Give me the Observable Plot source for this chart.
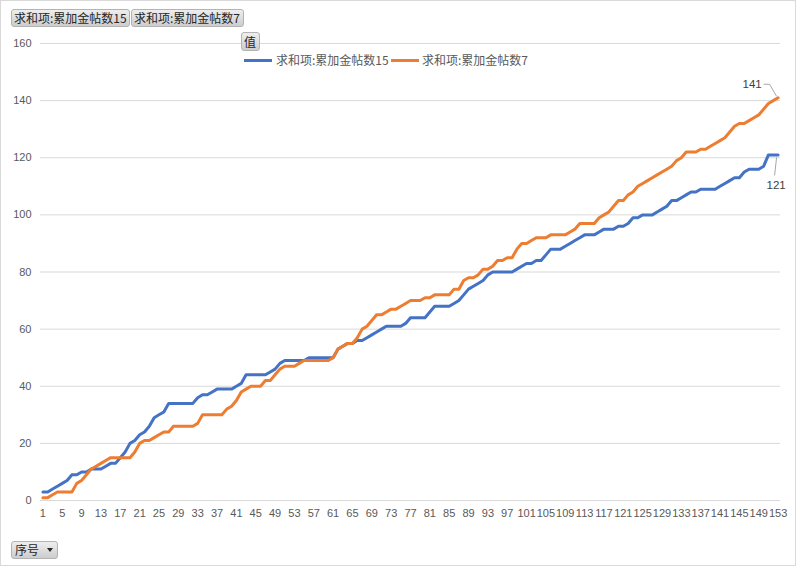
<!DOCTYPE html>
<html>
<head>
<meta charset="utf-8">
<script src="https://cdn.jsdelivr.net/npm/d3@7"></script>
<script src="https://cdn.jsdelivr.net/npm/@observablehq/plot@0.6"></script>
<style>
  html, body { margin: 0; padding: 0; background: #fff; }
  #wrap { position: relative; width: 796px; height: 566px; overflow: hidden; font-family: "Liberation Sans", "Noto Sans CJK SC", sans-serif; }
  #border { position: absolute; left: 0; top: 0; width: 794px; height: 564px; border: 1px solid #d9d9d9; pointer-events: none; }
  .btn { position: absolute; box-sizing: border-box; height: 18px; border: 1px solid #b3b3b3; border-radius: 3px;
         background: linear-gradient(#eeeeee, #cdcdcd); color: #262626; font-size: 12px; line-height: 16px;
         padding: 0 2px; white-space: nowrap; font-family: "Noto Sans CJK SC", sans-serif; }
  .leg { position: absolute; font-size: 12px; color: #595959; white-space: nowrap; line-height: 14px; font-family: "Noto Sans CJK SC", sans-serif; }
  .legline { position: absolute; height: 3px; }
  .tri { position: absolute; width: 0; height: 0; border-left: 3px solid transparent; border-right: 3px solid transparent; border-top: 4px solid #262626; }
</style>
</head>
<body>
<div id="wrap"></div>
<script>
// ---- data ----
const seriesNames = ["求和项:累加金帖数15", "求和项:累加金帖数7"];
const seriesColors = ["#4472C4", "#ED7D31"];
const xAxisName = "序号";
const valueButton = "值";
const yTicks = [0, 20, 40, 60, 80, 100, 120, 140, 160];

const idx = d3.range(1, 154);
const sum15 = [
  3,3,4,5,6,7,9,9,10,10, 11,11,11,12,13,13,15,17,20,21,
  23,24,26,29,30,31,34,34,34,34, 34,34,36,37,37,38,39,39,39,39,
  40,41,44,44,44,44,44,45,46,48, 49,49,49,49,49,50,50,50,50,50,
  50,53,54,55,55,56,56,57,58,59, 60,61,61,61,61,62,64,64,64,64,
  66,68,68,68,68,69,70,72,74,75, 76,77,79,80,80,80,80,80,81,82,
  83,83,84,84,86,88,88,88,89,90, 91,92,93,93,93,94,95,95,95,96,
  96,97,99,99,100,100,100,101,102,103, 105,105,106,107,108,108,109,109,109,109,
  110,111,112,113,113,115,116,116,116,117, 121,121,121
];
const sum7 = [
  1,1,2,3,3,3,3,6,7,9, 11,12,13,14,15,15,15,15,15,17,
  20,21,21,22,23,24,24,26,26,26, 26,26,27,30,30,30,30,30,32,33,
  35,38,39,40,40,40,42,42,44,46, 47,47,47,48,49,49,49,49,49,49,
  50,53,54,55,55,57,60,61,63,65, 65,66,67,67,68,69,70,70,70,71,
  71,72,72,72,72,74,74,77,78,78, 79,81,81,82,84,84,85,85,88,90,
  90,91,92,92,92,93,93,93,93,94, 95,97,97,97,97,99,100,101,103,105,
  105,107,108,110,111,112,113,114,115,116, 117,119,120,122,122,122,123,123,124,125,
  126,127,129,131,132,132,133,134,135,137, 139,140,141
];

const rows = [];
idx.forEach((n, i) => {
  rows.push({n, v: sum15[i], s: seriesNames[0]});
  rows.push({n, v: sum7[i], s: seriesNames[1]});
});
const lastN = idx[idx.length - 1];
const last7 = [{n: lastN, v: sum7[sum7.length - 1]}];
const last15 = [{n: lastN, v: sum15[sum15.length - 1]}];

const leaders = (index, scales) => {
  const g = d3.create("svg:g").attr("fill", "none").attr("stroke", "#a6a6a6").attr("stroke-width", 1);
  const x = scales.x(lastN);
  const y7 = scales.y(sum7[sum7.length - 1]);
  const y15 = scales.y(sum15[sum15.length - 1]);
  g.append("path").attr("d", `M${x - 14},${y7 - 13}H${x - 8}L${x - 1},${y7 - 1}`);
  g.append("path").attr("d", `M${x - 1},${y15 + 3}L${x - 3},${y15 + 21}`);
  return g.node();
};

const chart = Plot.plot({
  width: 796,
  height: 566,
  marginLeft: 40,
  marginRight: 16,
  marginTop: 43,
  marginBottom: 66,
  style: {fontFamily: '"Liberation Sans", "Noto Sans CJK SC", sans-serif', fontSize: "11px", color: "#595959", background: "transparent"},
  x: {type: "linear", domain: [0.5, lastN + 0.5], ticks: d3.range(1, lastN + 1, 4), tickFormat: d => String(d), tickSize: 0, tickPadding: 9, label: null, line: false},
  y: {domain: [0, 160], ticks: yTicks, tickSize: 0, tickPadding: 9, label: null},
  color: {domain: seriesNames, range: seriesColors},
  marks: [
    Plot.ruleY(yTicks, {stroke: "#d9d9d9", strokeWidth: 1}),
    Plot.line(rows, {x: "n", y: "v", z: "s", stroke: "s", strokeWidth: 3, strokeLinejoin: "round", strokeLinecap: "round", curve: "linear"}),
    leaders,
    Plot.text(last7, {x: "n", y: "v", text: d => String(d.v), dx: -26, dy: -13, fill: "#404040", fontSize: 11.5}),
    Plot.text(last15, {x: "n", y: "v", text: d => String(d.v), dx: -2, dy: 30, fill: "#404040", fontSize: 11.5})
  ]
});
const wrap = document.getElementById("wrap");
wrap.appendChild(chart);
chart.style.position = "absolute";
chart.style.left = "0px";
chart.style.top = "0px";

function addDiv(cls, text, css) {
  const d = document.createElement("div");
  d.className = cls;
  if (text != null) d.textContent = text;
  Object.assign(d.style, css);
  wrap.appendChild(d);
  return d;
}
// pivot field buttons
addDiv("btn", seriesNames[0], {left: "11px", top: "9px", width: "119px"});
addDiv("btn", seriesNames[1], {left: "131px", top: "9px", width: "113px"});
addDiv("btn", valueButton, {left: "241px", top: "32px", width: "19px", height: "19px", lineHeight: "17px", paddingLeft: "2px"});
addDiv("btn", xAxisName, {left: "11px", top: "541px", width: "47px", paddingLeft: "3px"});
addDiv("tri", null, {left: "47px", top: "548px"});
// legend
addDiv("legline", null, {left: "244px", top: "59px", width: "28px", background: seriesColors[0]});
addDiv("leg", seriesNames[0], {left: "276px", top: "53px"});
addDiv("legline", null, {left: "391px", top: "59px", width: "28px", background: seriesColors[1]});
addDiv("leg", seriesNames[1], {left: "422px", top: "53px"});
addDiv("", null, {}).id = "border";
</script>
</body>
</html>
